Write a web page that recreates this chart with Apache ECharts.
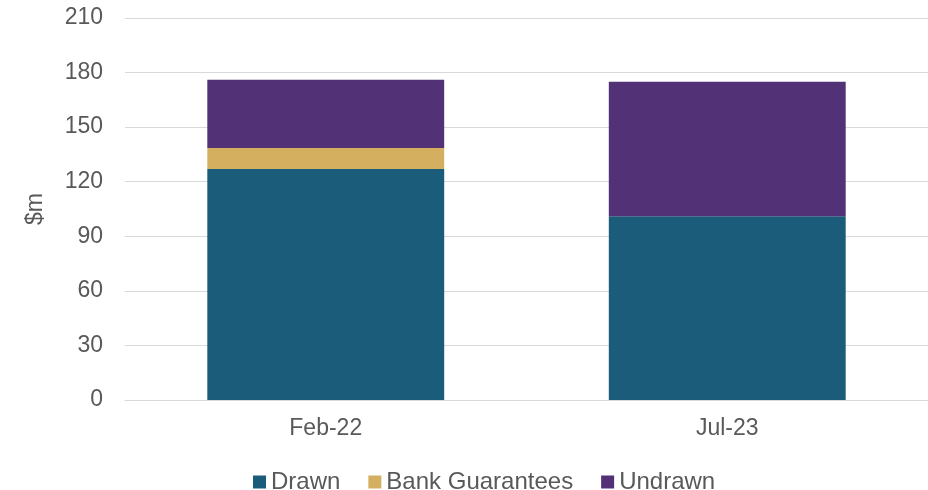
<!DOCTYPE html>
<html>
<head>
<meta charset="utf-8">
<script src="https://cdn.jsdelivr.net/npm/echarts@6/dist/echarts.min.js"></script>
<style>
	html, body { margin: 0; padding: 0; background: #fff; }
	#chart { width: 928px; height: 490px; }
</style>
</head>
<body>
<div id="chart"></div>
<script>
// 数据
var categories = ['Feb-22', 'Jul-23'];
var drawn = [127, 101];
var bankGuarantees = [11.5, 0];
var undrawn = [37.5, 74];
var yTicks = [0, 30, 60, 90, 120, 150, 180, 210];

var textColor = '#595959';
var font = 'Liberation Sans, Arial, sans-serif';

var myChart = echarts.init(document.getElementById('chart'));
myChart.setOption({
	animation: false,
	textStyle: { fontFamily: font },
	grid: { left: 125, right: 0, top: 18, bottom: 90, containLabel: false },
	legend: {
		top: 465,
		left: 248,
		itemWidth: 13,
		itemHeight: 13,
		itemGap: 28,
		icon: 'rect',
		textStyle: { color: textColor, fontSize: 24, fontFamily: font },
		data: ['Drawn', 'Bank Guarantees', 'Undrawn']
	},
	xAxis: {
		type: 'category',
		data: categories,
		axisTick: { show: false },
		axisLine: { lineStyle: { color: '#d9d9d9' } },
		axisLabel: { color: textColor, fontSize: 23, margin: 17, fontFamily: font }
	},
	yAxis: {
		type: 'value',
		min: yTicks[0],
		max: yTicks[yTicks.length - 1],
		interval: 30,
		name: '$m',
		nameLocation: 'middle',
		nameGap: 78,
		nameTextStyle: { color: textColor, fontSize: 23, fontFamily: font },
		axisLabel: { color: textColor, fontSize: 23, margin: 22, fontFamily: font },
		axisLine: { show: false },
		axisTick: { show: false },
		splitLine: { lineStyle: { color: '#d9d9d9', width: 1 } }
	},
	series: [
		{ name: 'Drawn', type: 'bar', stack: 'total', barCategoryGap: '41%', data: drawn, itemStyle: { color: '#1a5c7a' } },
		{ name: 'Bank Guarantees', type: 'bar', stack: 'total', data: bankGuarantees, itemStyle: { color: '#d4af5f' } },
		{ name: 'Undrawn', type: 'bar', stack: 'total', data: undrawn, itemStyle: { color: '#523176' } }
	]
});
</script>
</body>
</html>
